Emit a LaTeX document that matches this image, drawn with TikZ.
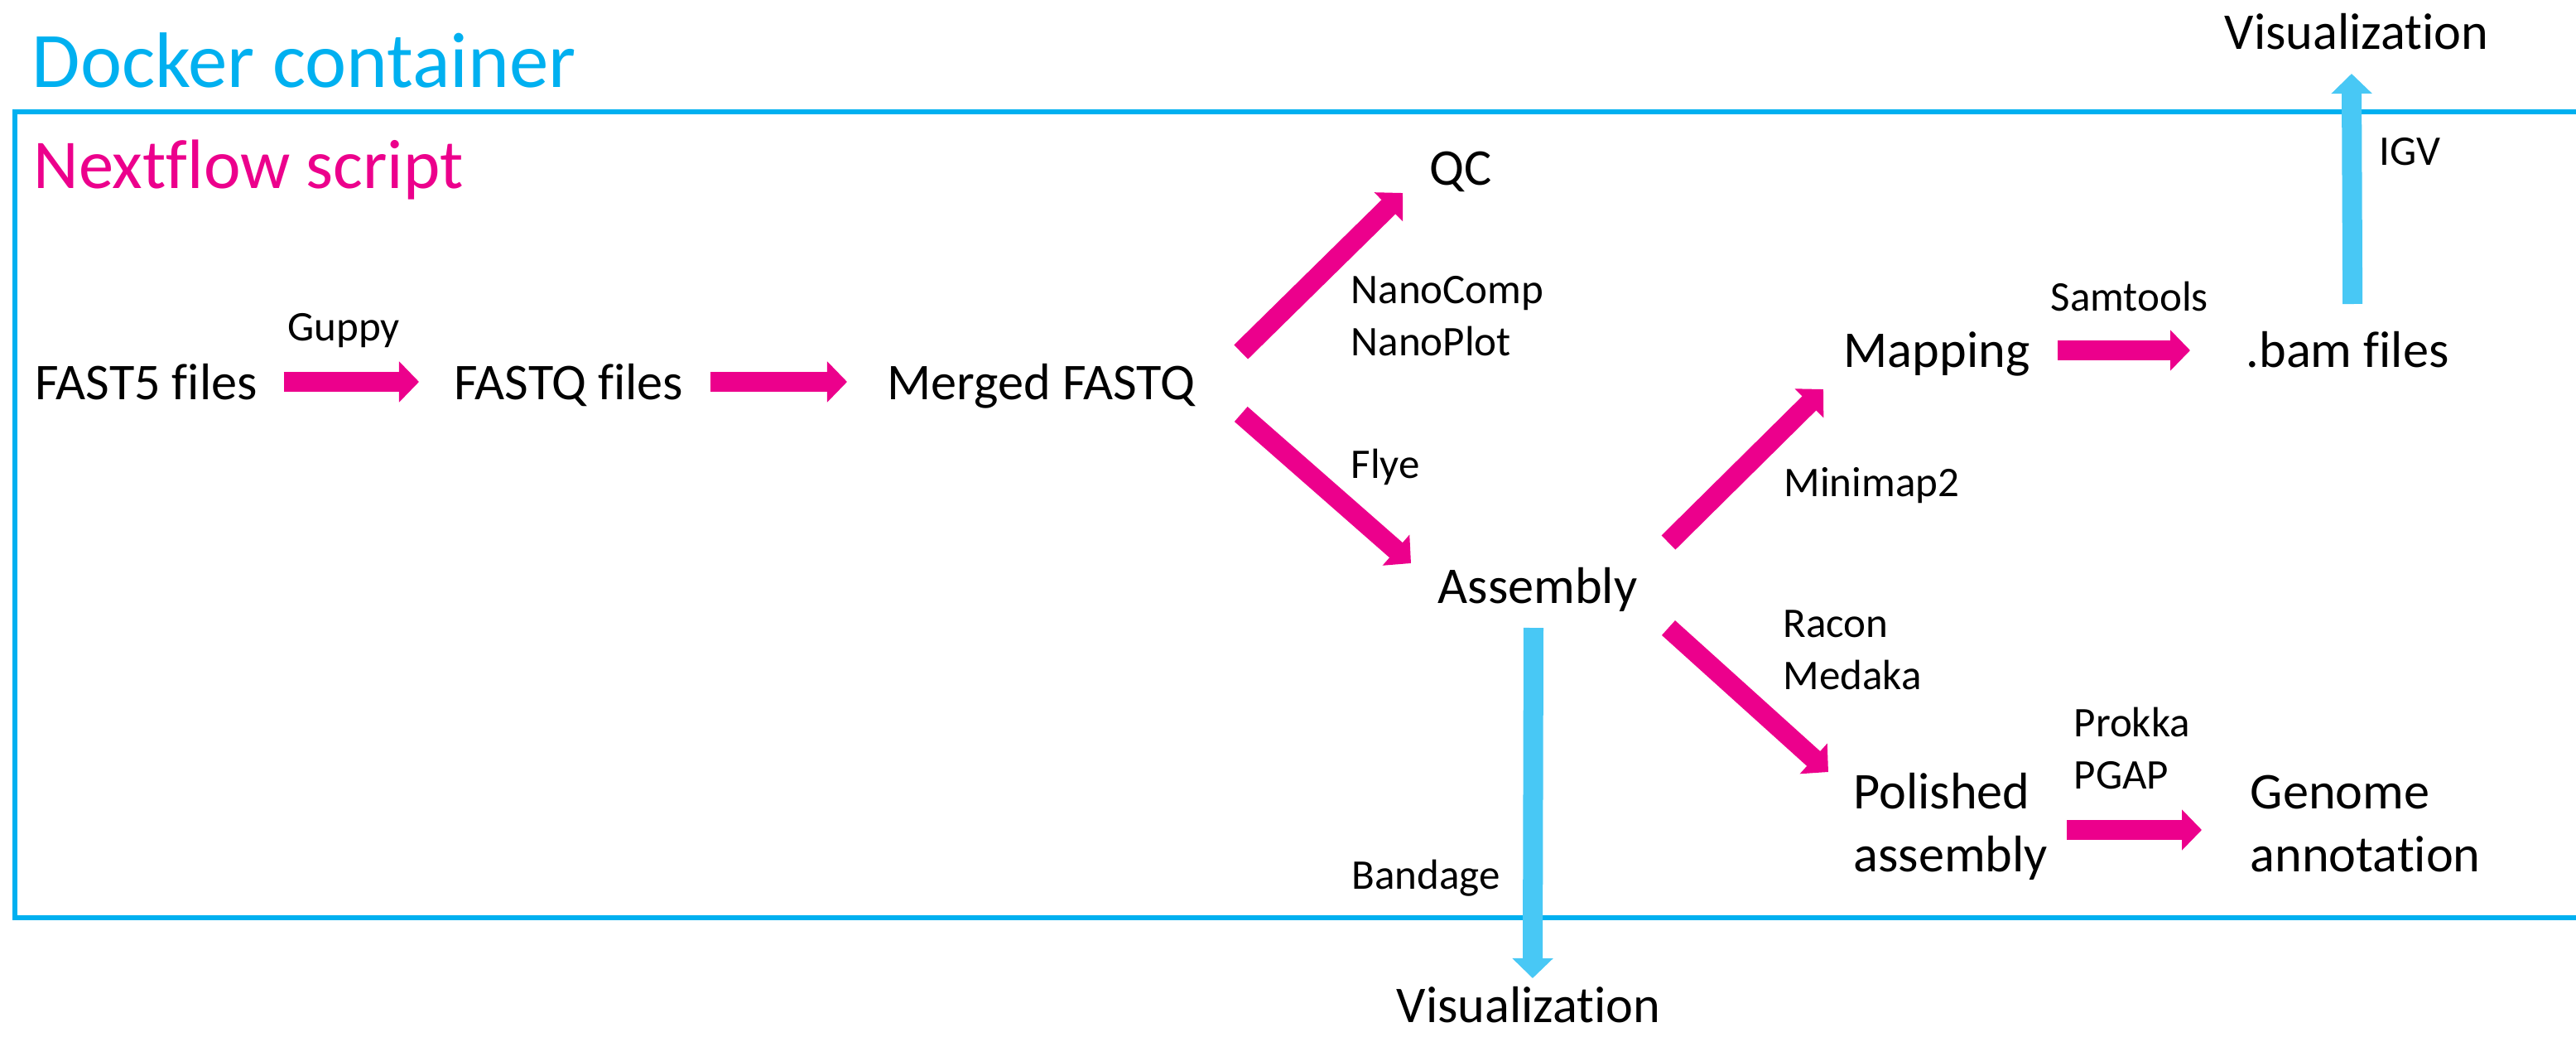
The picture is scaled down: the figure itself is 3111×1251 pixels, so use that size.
\documentclass[tikz,border=0pt]{standalone}
\usepackage{fontspec}
\setmainfont{Carlito}[Ligatures=NoCommon]
\usetikzlibrary{arrows.meta,calc}
\definecolor{dockerblue}{RGB}{0,176,240}
\definecolor{flowpink}{RGB}{236,0,140}
\definecolor{visblue}{RGB}{72,200,245}
\begin{document}
\begin{tikzpicture}[x=0.01cm, y=-0.01cm,
        proc/.style={anchor=base west, inner sep=0, align=left, font=\fontsize{17.7}{21.6}\selectfont},
        tool/.style={anchor=base west, inner sep=0, align=left, font=\fontsize{14.5}{17.7}\selectfont},
        flow/.style={draw=flowpink, line width=0.24cm, -{Triangle[length=0.24cm, width=0.48cm]}},
        visflow/.style={draw=visblue, line width=0.24cm, -{Triangle[length=0.24cm, width=0.48cm]}}]
        \useasboundingbox (0,0) rectangle (3111,1251);
        \draw[dockerblue, line width=1.5pt] (18,135) rectangle (3140,1108);
        \node[anchor=base west, inner sep=0, text=dockerblue, font=\fontsize{27}{33}\selectfont] (docker) at (38,105) {Docker container};
        \node[anchor=base west, inner sep=0, text=flowpink, font=\fontsize{24}{29}\selectfont] (nextflow) at (40,227) {Nextflow script};

        \node[proc] (fast5) at (42,482) {FAST5 files};
        \node[proc] (fastq) at (548,482) {FASTQ files};
        \node[proc] (merged) at (1071,482) {Merged FASTQ};
        \node[proc] (qc) at (1726,223) {QC};
        \node[proc] (assembly) at (1736,728) {Assembly};
        \node[proc] (mapping) at (2226,443) {Mapping};
        \node[proc] (bam) at (2712,443) {.bam files};
        \node[proc] (vistop) at (2686,59) {Visualization};
        \node[proc] (polished) at (2238,1052) {Polished\\assembly};
        \node[proc] (genome) at (2717,1052) {Genome\\annotation};
        \node[proc] (visbot) at (1686,1234) {Visualization};

        \node[tool] (guppy) at (347,411) {Guppy};
        \node[tool] (nano) at (1631,429) {NanoComp\\NanoPlot};
        \node[tool] (flye) at (1631,577) {Flye};
        \node[tool] (bandage) at (1632,1073) {Bandage};
        \node[tool] (minimap) at (2154,599) {Minimap2};
        \node[tool] (racon) at (2153,832) {Racon\\Medaka};
        \node[tool] (samtools) at (2476,375) {Samtools};
        \node[tool] (igv) at (2873,199) {IGV};
        \node[tool] (prokka) at (2504,952) {Prokka\\PGAP};

        \draw[flow] ($(fast5.base east)+(31,-21)$) -- ($(fastq.base west)+(-42,-21)$);
        \draw[flow] ($(fastq.base east)+(32,-21)$) -- ($(merged.base west)+(-48,-21)$);
        \draw[flow] ($(merged.base east)+(55,-57)$) -- ($(qc.base west)+(-32,10)$);
        \draw[flow] ($(merged.base east)+(55,18)$) -- ($(assembly.base west)+(-32,-48)$);
        \draw[flow] ($(assembly.base east)+(37,-73)$) -- ($(mapping.base west)+(-24,27)$);
        \draw[flow] ($(assembly.base east)+(37,30)$) -- ($(polished.base west)+(-30,-120)$);
        \draw[flow] ($(mapping.base east)+(33,-20)$) -- ($(bam.base west)+(-67,-20)$);
        \draw[flow] ($(polished.base west)+(258,-50)$) -- ($(genome.base west)+(-58,-50)$);
        \draw[visflow] ($(assembly.base)+(-5,30)$) -- ($(visbot.base)+(5,-53)$);
        \draw[visflow] ($(bam.base)+(6,-76)$) -- ($(vistop.base)+(-6,30)$);
    \end{tikzpicture}
\end{document}
